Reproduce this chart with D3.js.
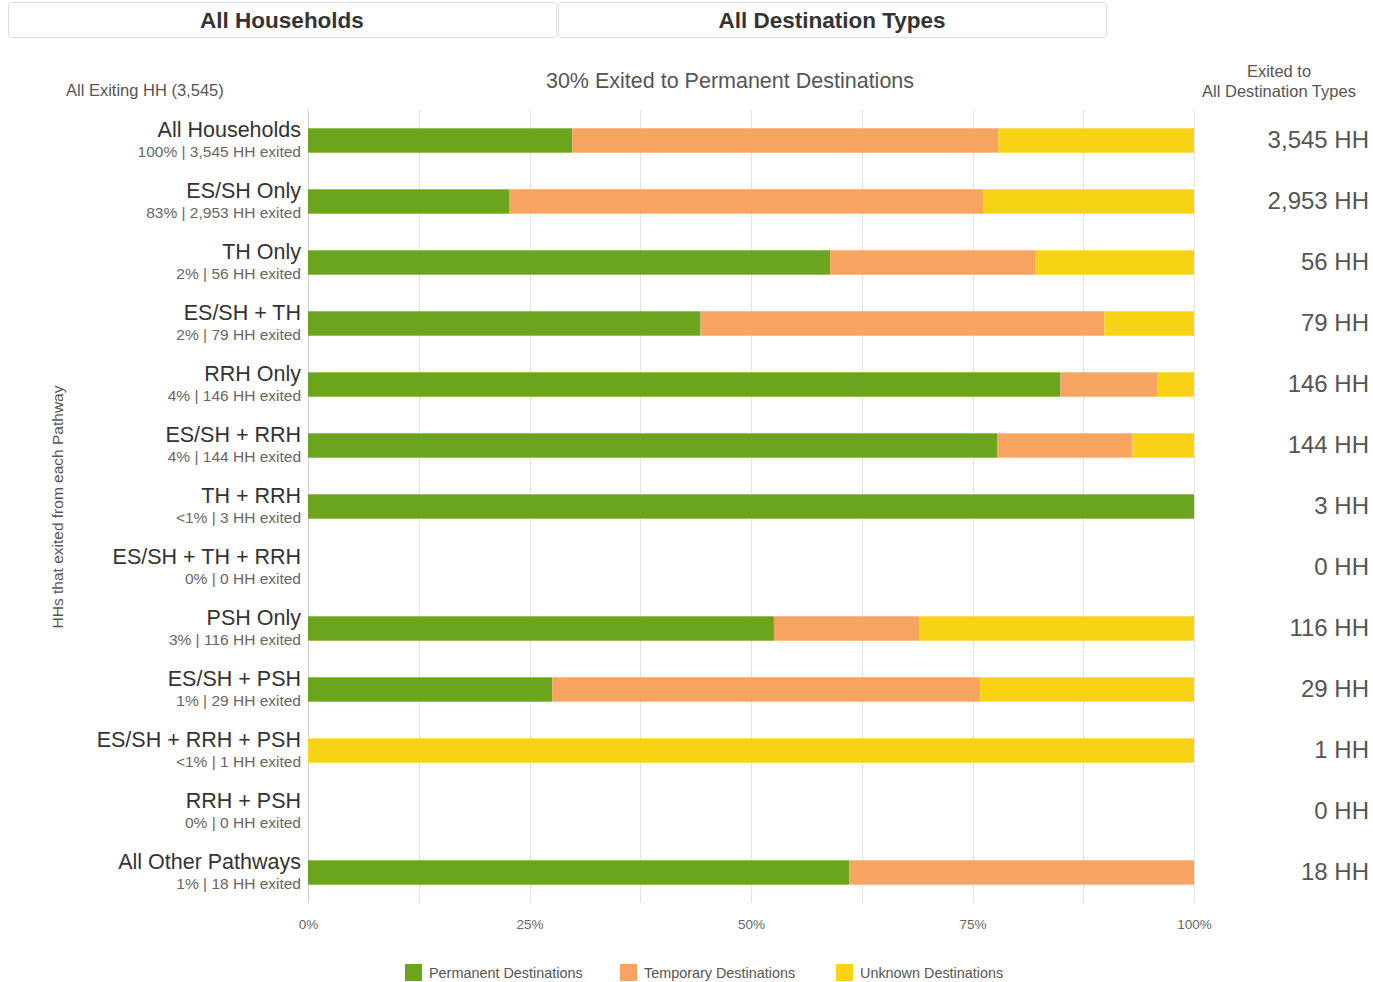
<!DOCTYPE html>
<html>
<head>
<meta charset="utf-8">
<script src="https://cdn.jsdelivr.net/npm/d3@7"></script>
<style>
  body { margin: 0; background: #fff; font-family: "Liberation Sans", Arial, sans-serif; }
  svg text { font-family: "Liberation Sans", Arial, sans-serif; }
</style>
</head>
<body>
<script>
// pathways and exit counts by destination type
var pathways = ["All Households", "ES/SH Only", "TH Only", "ES/SH + TH", "RRH Only", "ES/SH + RRH",
	"TH + RRH", "ES/SH + TH + RRH", "PSH Only", "ES/SH + PSH", "ES/SH + RRH + PSH", "RRH + PSH", "All Other Pathways"];
var shareLabels = ["100%", "83%", "2%", "2%", "4%", "4%", "<1%", "0%", "3%", "1%", "<1%", "0%", "1%"];
var permanent = [1057, 670, 33, 35, 124, 112, 3, 0, 61, 8, 0, 0, 11];
var temporary = [1705, 1580, 13, 36, 16, 22, 0, 0, 19, 14, 0, 0, 7];
var unknown   = [783, 703, 10, 8, 6, 10, 0, 0, 36, 7, 1, 0, 0];
var seriesNames = ["Permanent Destinations", "Temporary Destinations", "Unknown Destinations"];
var seriesColors = ["#6aa51d", "#f8a461", "#f8d215"];
var tickValues = [0, 0.25, 0.5, 0.75, 1];

var width = 1373, height = 982;
var margin = {left: 308, right: 179, top: 110, bottom: 79};

var svg = d3.select("body").append("svg")
	.attr("width", width)
	.attr("height", height);

// header tabs
var tabs = [{label: "All Households", x: 8, w: 548}, {label: "All Destination Types", x: 558, w: 548}];
var tab = svg.selectAll(".tab").data(tabs).enter().append("g").attr("class", "tab");
tab.append("rect")
	.attr("x", function(d){ return d.x + 0.5; })
	.attr("y", 2.5)
	.attr("width", function(d){ return d.w; })
	.attr("height", 35)
	.attr("rx", 3)
	.style("fill", "#fff")
	.style("stroke", "#dcdcdc");
tab.append("text")
	.attr("x", function(d){ return d.x + d.w/2; })
	.attr("y", 28)
	.attr("text-anchor", "middle")
	.style("font-size", "22.5px")
	.style("font-weight", "bold")
	.style("fill", "#333")
	.text(function(d){ return d.label; });

// build rows
var rows = pathways.map(function(p, i){
	var total = permanent[i] + temporary[i] + unknown[i];
	return {name: p, share: shareLabels[i], total: total, values: [permanent[i], temporary[i], unknown[i]]};
});

var x = d3.scaleLinear().domain([0, 1]).range([margin.left, width - margin.right]);
var y = d3.scaleBand().domain(pathways).range([margin.top, height - margin.bottom]).paddingInner(0.6).paddingOuter(0.3);

// gridlines every 12.5%
svg.append("g").selectAll("line")
	.data(d3.range(0, 1.0001, 0.125))
	.enter().append("line")
		.attr("x1", function(d){ return Math.round(x(d)) + 0.5; })
		.attr("x2", function(d){ return Math.round(x(d)) + 0.5; })
		.attr("y1", margin.top)
		.attr("y2", height - margin.bottom)
		.style("stroke", function(d){ return d == 0 ? "#d0d0d0" : "#e3e3e3"; })
		.style("stroke-width", 1);

// stacked segments
var segs = [];
rows.forEach(function(r){
	var acc = 0;
	r.values.forEach(function(v, k){
		var frac = r.total ? v / r.total : 0;
		segs.push({name: r.name, k: k, x0: acc, x1: acc + frac});
		acc += frac;
	});
});

svg.append("g").selectAll("rect")
	.data(segs.filter(function(d){ return d.x1 > d.x0; }))
	.enter().append("rect")
		.attr("x", function(d){ return x(d.x0); })
		.attr("width", function(d){ return x(d.x1) - x(d.x0); })
		.attr("y", function(d){ return y(d.name); })
		.attr("height", y.bandwidth())
		.style("fill", function(d){ return seriesColors[d.k]; });

// row labels
var lab = svg.append("g").selectAll("g")
	.data(rows).enter().append("g")
	.attr("transform", function(d){ return "translate(301," + (y(d.name) + y.bandwidth()/2) + ")"; });
lab.append("text")
	.attr("y", -4)
	.attr("text-anchor", "end")
	.style("font-size", "21.5px")
	.style("fill", "#333")
	.text(function(d){ return d.name; });
lab.append("text")
	.attr("y", 16)
	.attr("text-anchor", "end")
	.style("font-size", "15.5px")
	.style("fill", "#666")
	.text(function(d){ return d.share + " | " + d3.format(",")(d.total) + " HH exited"; });

// totals on the right
svg.append("g").selectAll("text")
	.data(rows).enter().append("text")
		.attr("x", 1369)
		.attr("y", function(d){ return y(d.name) + y.bandwidth()/2 + 7; })
		.attr("text-anchor", "end")
		.style("font-size", "24px")
		.style("fill", "#555")
		.text(function(d){ return d3.format(",")(d.total) + " HH"; });

// x axis
var xAxis = svg.append("g")
	.attr("transform", "translate(0," + (height - margin.bottom) + ")")
	.call(d3.axisBottom(x).tickValues(tickValues).tickFormat(d3.format(".0%")).tickSize(0).tickPadding(16));
xAxis.select(".domain").remove();
xAxis.selectAll("text").style("font-size", "13.5px").style("fill", "#666").style("font-family", "Liberation Sans, Arial, sans-serif");

// titles
var allTotal = rows[0].total;
svg.append("text")
	.attr("x", 66).attr("y", 96)
	.style("font-size", "16.5px").style("fill", "#555")
	.text("All Exiting HH (" + d3.format(",")(allTotal) + ")");
svg.append("text")
	.attr("x", 730).attr("y", 88)
	.attr("text-anchor", "middle")
	.style("font-size", "21.5px").style("fill", "#555")
	.text(d3.format(".0%")(permanent[0] / allTotal) + " Exited to Permanent Destinations");
svg.append("text")
	.attr("x", 1279).attr("y", 77)
	.attr("text-anchor", "middle")
	.style("font-size", "16.5px").style("fill", "#555")
	.text("Exited to");
svg.append("text")
	.attr("x", 1279).attr("y", 97)
	.attr("text-anchor", "middle")
	.style("font-size", "16.5px").style("fill", "#555")
	.text("All Destination Types");
svg.append("text")
	.attr("transform", "translate(63,507) rotate(-90)")
	.attr("text-anchor", "middle")
	.style("font-size", "15.5px").style("fill", "#555")
	.text("HHs that exited from each Pathway");

// legend
var legX = [405, 620, 836];
var leg = svg.append("g").selectAll("g")
	.data(seriesNames).enter().append("g")
	.attr("transform", function(d, i){ return "translate(" + legX[i] + ",964)"; });
leg.append("rect")
	.attr("width", 17).attr("height", 17)
	.style("fill", function(d, i){ return seriesColors[i]; });
leg.append("text")
	.attr("x", 24).attr("y", 14)
	.style("font-size", "14.4px").style("fill", "#555")
	.text(function(d){ return d; });
</script>
</body>
</html>
